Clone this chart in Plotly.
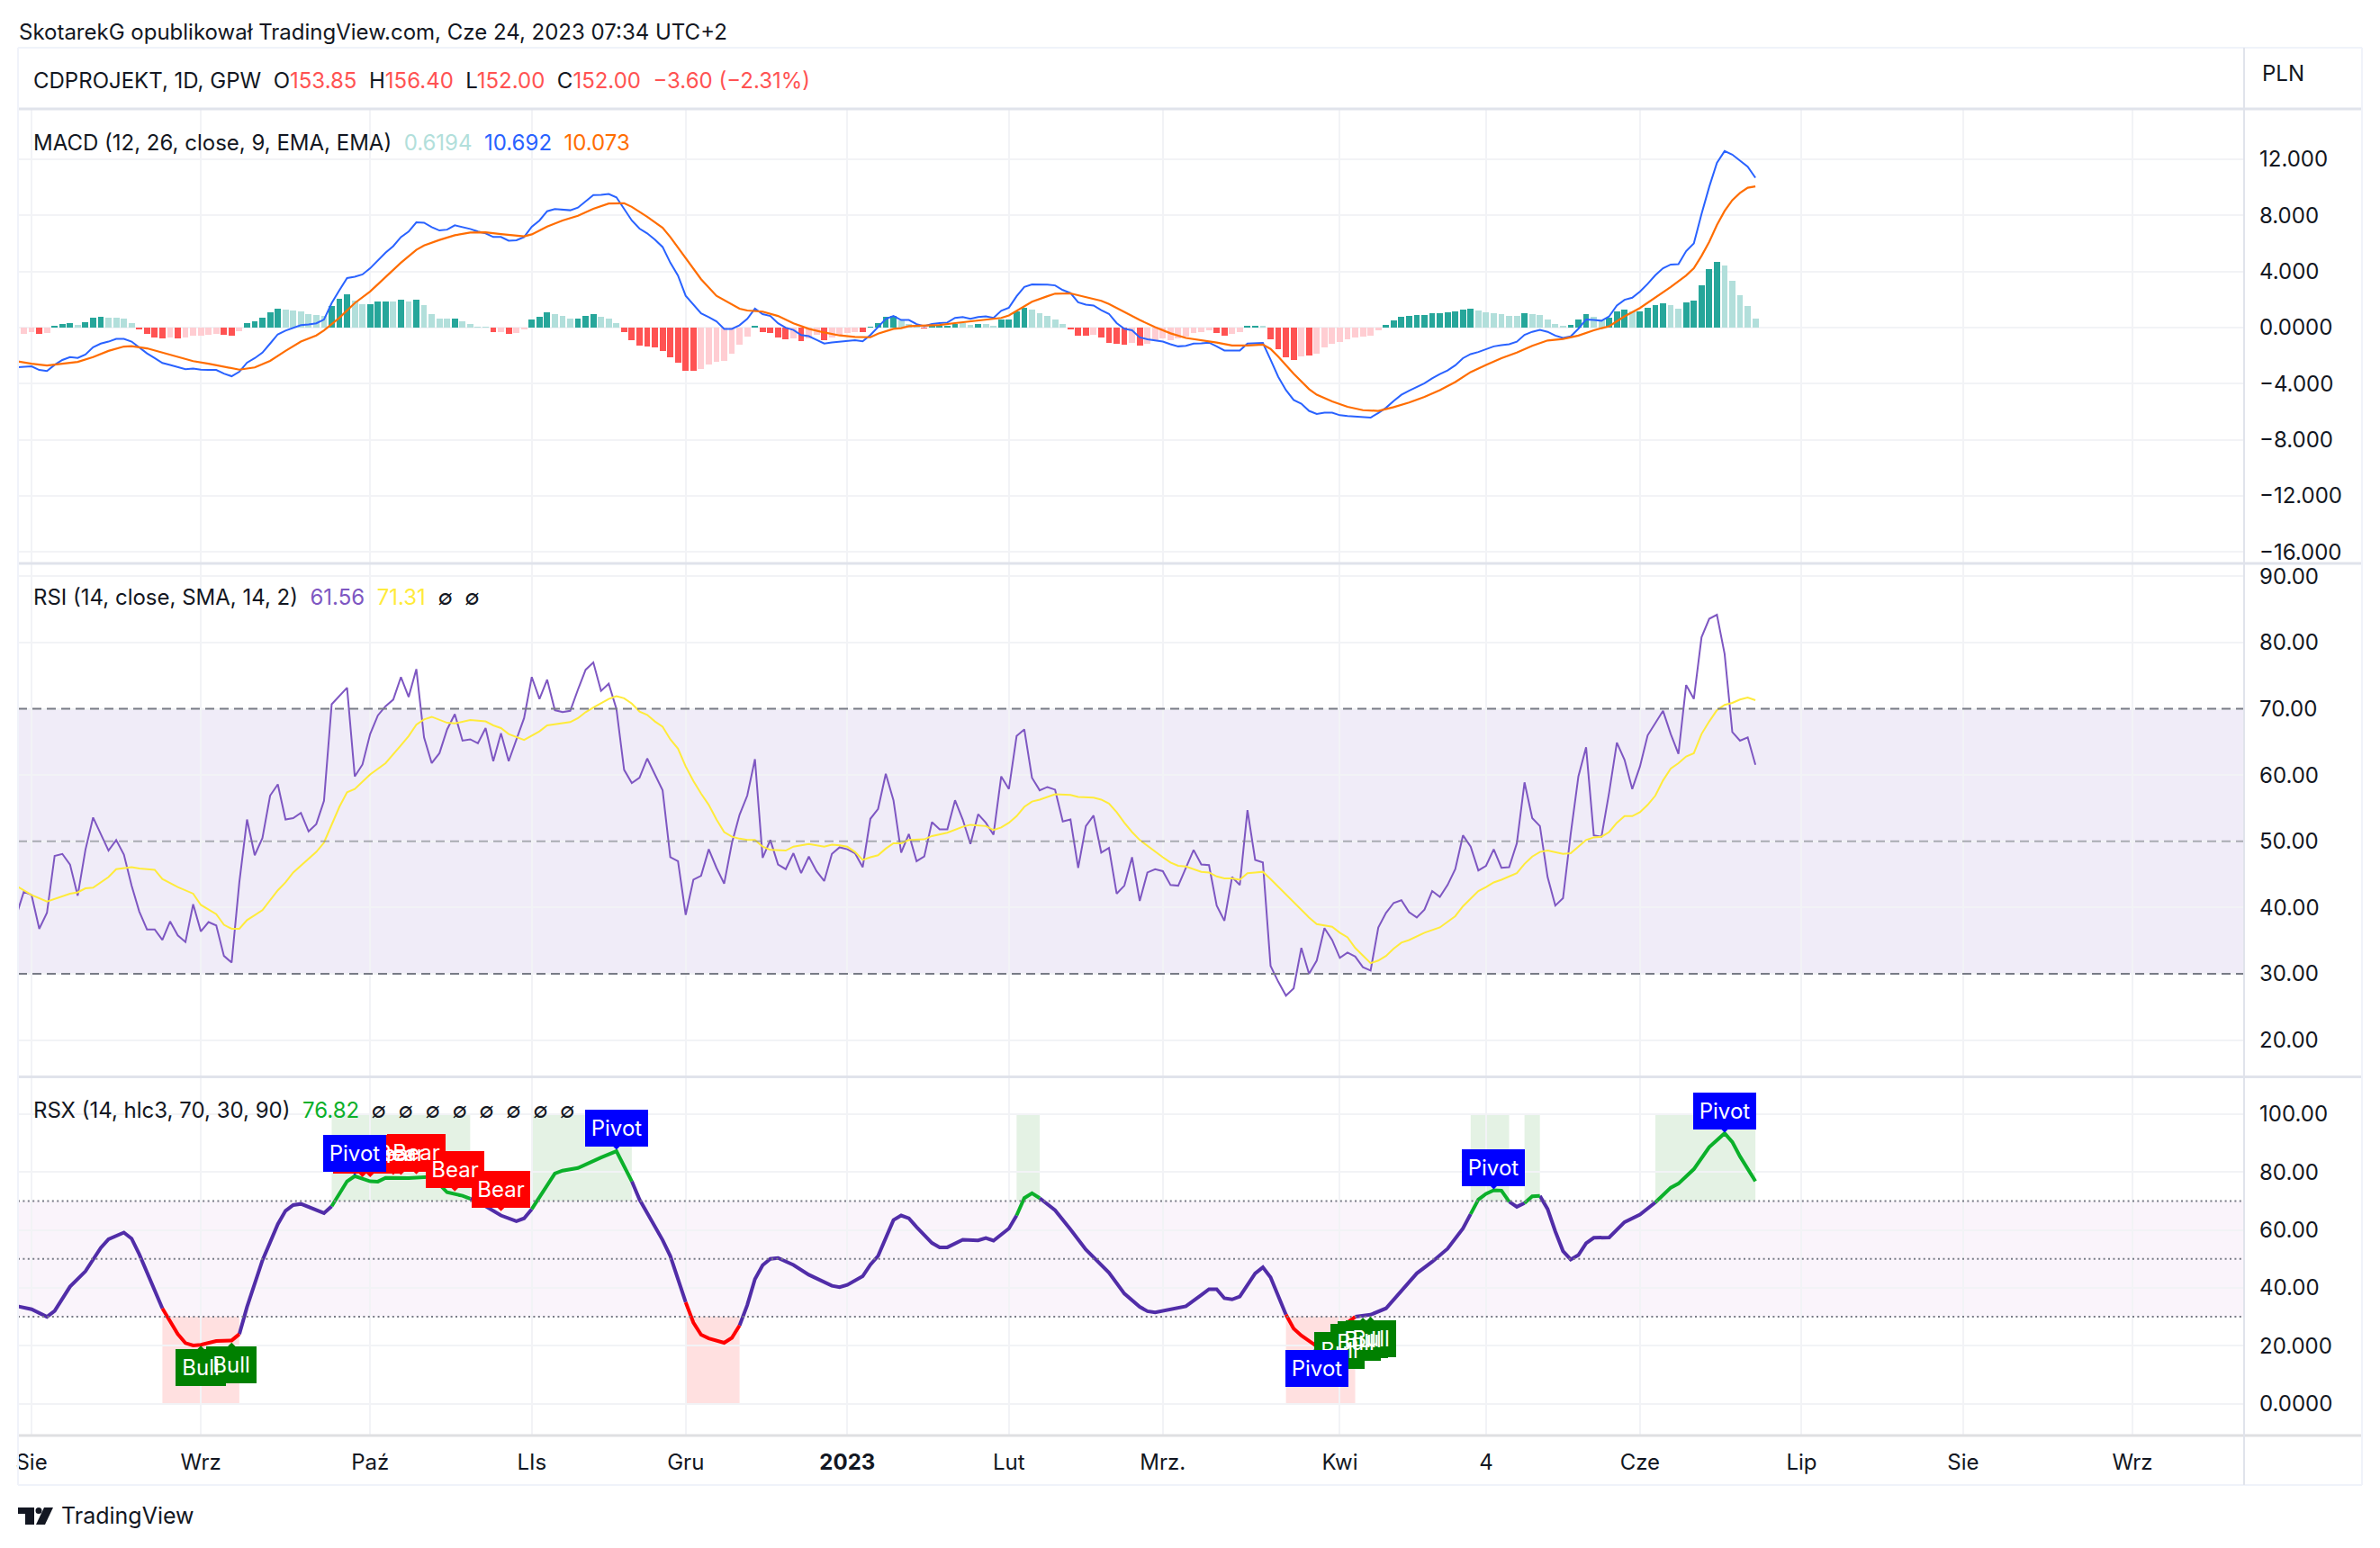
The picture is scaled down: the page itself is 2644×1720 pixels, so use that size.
import plotly.graph_objects as go

W, H = 2644, 1720

# --- bar index of each series: 0 is 2022-07-29, 225 is 2023-06-23 ---
month_pos = [1, 23, 45, 66, 86, 107, 128, 148, 171, 190, 210, 231, 252, 274]
month_txt = ["Sie", "Wrz", "Paź", "LIs", "Gru", "<b>2023</b>", "Lut", "Mrz.", "Kwi", "4", "Cze", "Lip", "Sie", "Wrz"]

# MACD line, one value per bar from index -1
macd_line = [-2.84, -2.8, -2.76, -3.02, -3.1, -2.66, -2.31, -2.1, -2.16, -1.92, -1.4, -1.14, -1.0, -.8, -.8, -1, -1.4,
             -1.84, -2.18, -2.52, -2.66, -2.81, -2.97, -2.92, -3, -3.02, -3.02, -3.28, -3.47, -3.15, -2.5, -2.18, -1.79,
             -1.14, -.48, -.22, -.01, .17, .23, .31, .57, 1.75, 2.66, 3.53, 3.63, 3.79, 4.23, 4.81, 5.34, 5.81, 6.46,
             6.85, 7.51, 7.48, 7.17, 6.93, 6.99, 7.3, 7.17, 7.04, 6.85, 6.72, 6.46, 6.46, 6.2, 6.23, 6.46, 7.2, 7.64,
             8.3, 8.45, 8.43, 8.37, 8.56, 9, 9.45, 9.47, 9.53, 9.29, 8.43, 7.64, 7.06, 6.72, 6.28, 5.75, 4.63, 3.71,
             2.27, 1.62, 1.01, .75, .44, -.09, -.09, .17, .62, 1.35, .96, .83, .31, -.01, -.17, -.53, -.61, -.87, -1.14,
             -1.06, -1, -.93, -.9, -.98, -.53, .04, .62, .83,
             .54, .54, .25, .1, .25, .32, .36, .69, .76, .63, .76, .8, .69, 1.2, 1.42, 2.24, 2.9, 3.08, 3.08, 3.06, 3.01,
             2.68, 2.46, 1.8, 1.64, 1.58, 1.25, .98, .32, -.08, -.19, -.7, -.83, -.92, -1, -1.19, -1.34, -1.3, -1.14,
             -1.12, -1.07, -1.34, -1.63, -1.63, -1.63, -1.14, -1.1, -1.1, -2.29, -3.51, -4.46, -5.16, -5.43, -5.94,
             -6.16, -6.07, -6.07, -6.25, -6.31, -6.34, -6.38, -6.42, -6.09, -5.72, -5.23, -4.79, -4.5, -4.24, -3.97,
             -3.62, -3.31, -3.06, -2.69, -2.18, -1.89, -1.74, -1.54, -1.34, -1.25, -1.19, -1.01, -.52, -.3, -.17, -.3,
             -.57, -.74, -.63, -.08, .58, .54, .49, .8, 1.58, 1.98, 2.13, 2.57, 3.12, 3.74, 4.23, 4.5, 4.52, 5.45, 6,
             8.1, 10.04, 11.75, 12.59, 12.34, 11.9, 11.48, 10.69]

# signal line vertices
signal_idx = [-1, 1, 3, 5, 7, 9, 11, 13, 14, 16, 18, 20, 22, 24, 26, 28, 30, 32, 34, 36, 38, 39, 41, 43, 45, 47, 49, 51,
              52, 54, 56, 58, 60, 62, 64, 65, 66, 68, 70, 72, 74, 76, 78, 79, 81, 83, 84, 86, 88, 90, 92, 93, 94, 96, 98,
              100, 102, 104, 106, 108, 110, 111, 113, 114, 115, 117, 119, 121, 123, 125, 127, 128, 129, 131, 133, 134,
              136, 138, 140, 141, 143, 145, 147, 149, 151, 153, 155, 157, 159, 161, 162, 163, 165, 167, 168, 170, 172,
              174, 176, 178, 180, 182, 184, 186, 188, 190, 192, 194, 196, 198, 200, 202, 204, 206, 208, 210, 212, 214,
              216, 217, 218, 219, 220, 221, 222, 223, 224, 225]
signal_val = [-2.39, -2.58, -2.71, -2.58, -2.45, -2.1, -1.66, -1.35, -1.32, -1.48, -1.79, -2.1, -2.39, -2.58, -2.79, -3,
              -2.84, -2.37, -1.66, -1, -.56, -.2, .7, 1.75, 2.58, 3.58, 4.63, 5.55, 5.86, 6.25, 6.59, 6.78, 6.8, 6.67,
              6.54, 6.51, 6.65, 7.2, 7.64, 7.98, 8.48, 8.85, 8.87, 8.61, 7.9, 7.12, 6.46, 4.97, 3.45, 2.27, 1.62, 1.35,
              1.22, 1.14, .83, .31, -.09, -.35, -.56, -.66, -.69, -.43, -.09, -.04, .1, .14, .19, .32, .43, .54, .69, .87,
              1.2, 1.84, 2.24, 2.42, 2.44, 2.17, 1.91, 1.69, 1.09, .54, .03, -.41, -.74, -.9, -1.07, -1.27, -1.27, -1.21,
              -1.52, -2.07, -3.29, -4.39, -4.79, -5.27, -5.65, -5.89, -5.94, -5.67, -5.34, -4.94, -4.46, -3.88, -3.17,
              -2.67, -2.18, -1.78, -1.3, -.92, -.81, -.57, -.19, .1, .8, 1.4, 2.13, 2.9, 3.72, 4.23, 5.11, 6.11, 7.32,
              8.32, 9.09, 9.6, 9.98, 10.07]

# histogram, one value per bar from index 0
hist_val = [-.47, -.34, -.47, -.39, .1, .26, .34, .2, .39, .73, .79, .73, .73, .63, .34, -.08, -.47, -.71, -.79, -.73,
            -.79, -.73, -.55, -.55, -.52, -.42, -.52, -.55, -.26, .31, .45, .71, 1.1, 1.36, 1.31, 1.23, 1.18, .97, .89,
            .86, 1.55, 2.07, 2.36, 1.91, 1.65, 1.7, 1.83, 1.89, 1.89, 2.02, 1.89, 2.02, 1.62, .97, .65, .63, .65, .47,
            .26, .05, .05, -.34, -.34, -.47, -.37, -.16, .6, .79, 1.1, .97, .81, .63, .65, .86, .97, .79, .65, .34, -.34,
            -.92, -1.26, -1.34, -1.44, -1.7, -2.15, -2.49, -3.09, -3.1, -2.96, -2.62, -2.41, -2.36, -1.83, -1.23, -.65,
            .1, -.34, -.39, -.68, -.86, -.79, -.94, -.79, -.5, -.92, -.73, -.58, -.39, -.32, -.34, .05, .34, .79, .86,
            .49, .27, .15, -.05, .11, .11, .11, .27, .33, .2, .27, .27, .11, .55, .6, 1.15, 1.41, 1.3, 1.04, .82, .6,
            .27, -.1, -.55, -.57, -.51, -.73, -1.06, -1.17, -1.22, -1.06, -1.28, -1.17, -.91, -.8, -.88, -.8, -.62, -.4,
            -.29, -.22, -.4, -.57, -.44, -.35, .13, .13, .13, -.82, -1.57, -2.1, -2.28, -2.06, -2.01, -1.86, -1.39,
            -1.13, -1.02, -.86, -.73, -.64, -.57, -.18, .2, .53, .75, .82, .88, .88, 1.04, 1.04, 1.1, 1.17, 1.3, 1.35,
            1.24, 1.1, 1.04, .95, .84, .84, 1.04, .97, .88, .6, .27, .07, .2, .6, .97, .77, .49, .71, 1.17, 1.28, 1.13,
            1.17, 1.41, 1.61, 1.75, 1.61, 1.35, 1.81, 1.95, 3.03, 4.18, 4.69, 4.44, 3.32, 2.31, 1.55, .62]
# shade of each histogram bar, ten bars a group: d = strong, l = pale
hist_shade = ("lldldddldd" "dllllddddl" "dlllllddld" "ddddllllll" "dddlldddld" "ldlllldlll" "ldldlldddl" "lldddllldd"
              "ddddddddll" "lllllddddd" "ldlldlllld" "ddddlllddd" "ddlldllddd" "dllllldddl" "ddddldllll" "lllllddlld"
              "dlddddldll" "lllllllddd" "dddddddddl" "llllldllll" "ldddlldddl" "ddddlldddd" "dlllll")

# RSI, one value per bar from index -1
rsi_val = [38.7, 42.4, 41.9, 36.8, 39.2, 47.8, 48.1, 46.5, 41.8, 48.7, 53.6, 51.1, 48.6, 50.2, 48, 43.3, 39.4, 36.7, 36.7,
           35.1, 37.9, 35.8, 34.8, 40.5, 36.4, 37.8, 37.3, 32.7, 31.7, 43.8, 53.3, 47.9, 50.5, 56.9, 58.6, 53.3, 53.5,
           54.3, 51.5, 52.6, 56.1, 70.7, 72, 73.2, 59.8, 61.6, 66.2, 69, 70.4, 71.4, 74.8, 71.8, 76, 65.7, 61.8, 63.3,
           66.9, 69.2, 65.2, 65.4, 64.8, 67.1, 62.1, 66.3, 62.1, 65.4, 68.6, 74.8, 71.5, 74.4, 69.8, 69.5, 69.7, 72.9,
           75.9, 77, 72.7, 73.8, 70, 60.8, 58.8, 59.6, 62.5, 60.1, 57.7, 47.6, 47, 38.9, 44.2, 44.8, 48.8, 46, 43.6, 49.7,
           54, 56.9, 62.4, 47.5, 50.2, 46.5, 45.8, 48.2, 45.2, 47.7, 45.5, 44, 48.1, 49.1, 48.8, 48.2, 46.1, 53.4, 54.9,
           60.2, 56.2, 48.3, 51.1, 47, 47.7, 52.9, 51.8, 51.8, 56.2, 53.3, 49.6, 54.1, 52.8, 51, 59.8, 57.9, 65.9, 66.9,
           59.6, 57.7, 58.2, 57.8, 53, 53.3, 46, 52.3, 53.9, 48.3, 49, 42.1, 43.3, 47.6, 41, 45.3, 45.8, 45.5, 43.4, 43.3,
           46, 48.7, 46.5, 46.4, 40.3, 38, 44.6, 43.4, 54.7, 47.2, 46.8, 31.2, 28.8, 26.7, 27.8, 33.9, 30, 32, 36.9, 35.1,
           32.4, 33.2, 32.6, 31, 30.5, 37, 39.2, 40.7, 41.1, 39.3, 38.5, 39.7, 42.5, 41.6, 43.4, 45.8, 50.9, 49.2, 45.6,
           46.3, 48.8, 46, 46.1, 49.7, 58.9, 53.5, 52.3, 44.6, 40.3, 41.4, 51.1, 59.8, 64.2, 50.9, 50.7, 57.4, 64.9, 62.3,
           57.9, 61.3, 66, 67.9, 69.7, 66.2, 63.2, 73.6, 71.5, 80.8, 83.6, 84.2, 78.3, 66.5, 65.2, 65.7, 61.56]

# RSI moving average, one value per bar from index -1 where readable
rsi_ma_idx = [-1, 1, 3, 6, 7, 8, 9, 11, 12, 14, 15, 17, 18, 20, 22, 23, 25, 26, 27, 28, 29, 31, 33, 34, 35, 37, 38, 39,
              40, 41, 42, 43, 45, 47, 49, 50, 51, 52, 53, 54, 55, 56, 58, 60, 61, 62, 63, 65, 66, 67, 68, 69, 70, 71, 72,
              73, 74, 75, 76, 77, 78, 79, 80, 81, 82, 83, 84, 85, 86, 87, 88, 89, 90, 91, 92, 93, 94, 95, 96, 97, 98, 99,
              100, 102, 104, 105, 106, 107, 108, 109, 110, 111, 112, 113, 114, 115, 117, 118, 120, 122, 123, 125, 126,
              127, 128, 129, 130, 131, 132, 134, 136, 137, 139, 140, 141, 142, 143, 144, 145, 146, 147, 148, 149, 150,
              151, 152, 153, 154, 155, 156, 157, 158, 159, 160, 161, 162, 164, 166, 167, 168, 170, 171, 172, 173, 174,
              175, 176, 177, 178, 179, 180, 182, 184, 185, 186, 187, 188, 189, 190, 191, 192, 194, 195, 196, 197, 198,
              200, 201, 202, 203, 204, 205, 206, 207, 208, 209, 210, 211, 212, 213, 214, 215, 216, 217, 218, 219, 220,
              221, 222, 223, 224, 225]
rsi_ma_val = [43.3, 41.9, 40.9, 42.1, 42.3, 42.9, 43, 44.6, 45.8, 46.1, 45.9, 45.7, 44.3, 43.1, 42.1, 40.4, 39, 37.4, 36.8,
              36.8, 38.1, 39.6, 42.6, 43.8, 45.3, 47.3, 48.4, 49.8, 52.6, 55.2, 57.4, 57.9, 60.1, 61.8, 64.5, 65.9, 67.6,
              68.4, 68.8, 68.3, 67.9, 67.8, 68.3, 68.1, 67.5, 67.1, 66.2, 65.3, 65.9, 66.6, 67.5, 67.7, 67.8, 68, 68.6,
              69.5, 70.2, 70.9, 71.5, 71.9, 71.6, 70.8, 69.6, 69.1, 68.1, 67.3, 65.4, 64, 61.3, 59.1, 57.2, 55.5, 53.3,
              51.4, 50.7, 50.4, 50.2, 50.2, 49.2, 48.7, 48.6, 48.6, 49.2, 49.6, 49.2, 49.5, 49.4, 49.2, 48.4, 47.2, 47.6,
              47.9, 48.9, 49.7, 49.7, 50.2, 50.3, 50.8, 51.3, 52.2, 52.5, 52.3, 51.7, 52.1, 52.8, 53.8, 55.2, 56, 56.3,
              57.1, 57, 56.7, 56.6, 56.3, 55.7, 54.4, 52.8, 51.4, 50.2, 49.3, 48.4, 47.6, 46.8, 46.3, 46.2, 45.8, 45.4,
              45.3, 44.7, 44.4, 44.4, 44.2, 45.2, 45.3, 45.4, 44.3, 42, 39.7, 38.5, 37.5, 37.1, 36.2, 35.5, 33.9, 32.7,
              31.6, 32, 32.7, 33.8, 34.7, 35.1, 36.2, 37, 37.8, 38.7, 40.2, 41.4, 42.5, 43.1, 43.8, 44.2, 45.2, 46.6, 47.7,
              48.4, 48.6, 48.1, 48.2, 49.2, 50.2, 50.6, 50.7, 51.4, 52.8, 53.8, 53.8, 54.4, 55.5, 56.9, 59.2, 61, 61.8,
              62.8, 63.3, 66.2, 68.1, 69.8, 70.6, 70.9, 71.4, 71.7, 71.31]

# RSX line vertices
rsx_idx = [-1, 1, 3, 4, 6, 8, 10, 11, 13, 14, 15, 17, 18, 20, 21, 22, 23, 25, 27, 28, 29, 31, 33, 34, 35, 36, 38, 39, 40,
           42, 43, 45, 46, 47, 50, 53, 55, 57, 58, 60, 62, 64, 65, 66, 69, 70, 72, 75, 77, 79, 80, 83, 84, 86, 87, 88, 89,
           91, 92, 93, 94, 95, 96, 97, 98, 100, 102, 105, 106, 107, 109, 110, 111, 113, 114, 115, 116, 118, 119, 120, 122,
           124, 125, 126, 128, 129, 130, 131, 132, 134, 136, 138, 141, 143, 145, 146, 147, 148, 151, 153, 154, 155, 156,
           157, 158, 160, 161, 162, 164, 165, 166, 168, 169, 170, 171, 172, 173, 175, 177, 178, 180, 181, 183, 185, 187,
           188, 189, 190, 191, 192, 193, 194, 195, 196, 197, 198, 199, 200, 201, 202, 203, 204, 206, 208, 210, 212, 214,
           215, 217, 219, 221, 222, 223, 225]
rsx_val = [33.7, 32.6, 30, 32, 40.4, 45.7, 53.8, 56.8, 59.1, 57, 51.6, 39, 32.9, 24, 20.9, 20.1, 20.3, 21.6, 21.8, 24,
           33.4, 49.5, 62, 66.6, 68.6, 69, 67, 65.8, 68.2, 76.8, 78.6, 76.8, 76.7, 78, 77.9, 78.4, 73, 71.8, 70.8, 68.2,
           65, 63, 64, 67.2, 79.5, 80.5, 81.4, 85, 87.2, 76.8, 70.5, 56.5, 51, 35, 28, 23.8, 22.5, 21, 22.7, 27, 34, 43,
           47.8, 50, 50.3, 47.9, 44.5, 40.7, 40.2, 41, 44, 48, 51, 63.4, 65, 64, 61, 55.5, 54, 54, 56.6, 56.4, 57.2, 56.3,
           60.5, 65, 71, 72.7, 71, 66.8, 60.2, 53.2, 45.2, 38, 33.4, 31.9, 31.5, 32, 33.6, 37.5, 39.5, 39.5, 36.4, 36, 37,
           45, 47.1, 43.6, 30.7, 25.9, 23.5, 19.8, 19.5, 22, 26, 28, 30, 30.7, 32.9, 36, 42, 45, 49, 53.5, 60.5, 65.5,
           70.5, 72.5, 73.7, 73.6, 69.8, 68, 69.3, 71.6, 71.8, 67.2, 59.5, 52.7, 49.8, 51.3, 55.4, 57.3, 57.4, 62.7, 65.3,
           69.5, 74.6, 76, 81, 88.6, 93.4, 90.4, 85.4, 76.82]

# stretches of bars where RSX is overbought / oversold
overbought = [(40, 58), (66, 79), (129, 132), (188, 193), (195, 197), (212, 225)]
oversold = [(18, 28), (86, 93), (164, 173)]

# signal labels: bar index and the RSX level the label points to
bear_labels = [(44, 78.2), (45, 78.2), (48, 79), (49, 79), (51, 79.2), (56, 73.3), (62, 66.5)]
bull_labels = [(23, 20), (27, 21.1), (171, 26), (173, 28.8), (174, 29.7), (175, 30)]
pivot_top = [(43, 78.9), (77, 87.7), (191, 74), (221, 93.6)]
pivot_bottom = [(168, 19.7)]

macd_ticks = [12, 8, 4, 0, -4, -8, -12, -16]
macd_tick_txt = ["12.000", "8.000", "4.000", "0.0000", "−4.000", "−8.000", "−12.000", "−16.000"]
rsi_ticks = [90, 80, 70, 60, 50, 40, 30, 20]
rsi_tick_txt = ["90.00", "80.00", "70.00", "60.00", "50.00", "40.00", "30.00", "20.00"]
rsx_ticks = [100, 80, 60, 40, 20, 0]
rsx_tick_txt = ["100.00", "80.00", "60.00", "40.00", "20.000", "0.0000"]

FONT = "Inter, 'Liberation Sans', sans-serif"
INK = "#131722"
GRID = "#f2f3f6"
EDGE = "#e0e3eb"
FS = 24

# pane geometry in page pixels
LEFT, RIGHT, BOX_R = 20, 2493, 2624
PANES = {"": (121, 626), "2": (626, 1196.5), "3": (1196.5, 1595)}
XRANGE = [-0.76, 288.5]


def fx(px):
    return px / W


def fy(px):
    return 1 - px / H


fig = go.Figure()

# MACD pane
hist_colors = []
for v, s in zip(hist_val, hist_shade):
    if v >= 0:
        hist_colors.append("#26A69A" if s == "d" else "#B2DFDB")
    else:
        hist_colors.append("#FF5252" if s == "d" else "#FFCDD2")
fig.add_trace(go.Bar(x=list(range(len(hist_val))), y=hist_val, width=0.8, marker=dict(color=hist_colors, line_width=0),
                     xaxis="x", yaxis="y"))
fig.add_trace(go.Scatter(x=list(range(-1, len(macd_line) - 1)), y=macd_line, mode="lines",
                         line=dict(color="#2962FF", width=2), xaxis="x", yaxis="y"))
fig.add_trace(go.Scatter(x=signal_idx, y=signal_val, mode="lines", line=dict(color="#FF6D00", width=2.2),
                         xaxis="x", yaxis="y"))

# RSI pane
fig.add_trace(go.Scatter(x=list(range(-1, len(rsi_val) - 1)), y=rsi_val, mode="lines",
                         line=dict(color="#7E57C2", width=2), xaxis="x2", yaxis="y2"))
fig.add_trace(go.Scatter(x=rsi_ma_idx, y=rsi_ma_val, mode="lines", line=dict(color="#FFEB3B", width=2),
                         xaxis="x2", yaxis="y2"))

# RSX pane: purple between the zones, green and red inside them
zones_all = overbought + oversold
rsx_base = [None if any(a < i < b for a, b in zones_all) else v for i, v in zip(rsx_idx, rsx_val)]
fig.add_trace(go.Scatter(x=rsx_idx, y=rsx_base, mode="lines", connectgaps=False,
                         line=dict(color="#512DA8", width=4), xaxis="x3", yaxis="y3"))
for zones, col in ((overbought, "#0BB02A"), (oversold, "#FF0000")):
    for a, b in zones:
        seg = [(i, v) for i, v in zip(rsx_idx, rsx_val) if a <= i <= b]
        fig.add_trace(go.Scatter(x=[p[0] for p in seg], y=[p[1] for p in seg], mode="lines",
                                 line=dict(color=col, width=4), xaxis="x3", yaxis="y3"))

shapes = []

# RSI band and level lines
shapes.append(dict(type="rect", xref="x2 domain", yref="y2", x0=0, x1=1, y0=30, y1=70, line_width=0,
                   fillcolor="rgba(126,87,194,0.115)", layer="below"))
for lvl, col in ((70, "#787B86"), (50, "rgba(120,123,134,0.6)"), (30, "#787B86")):
    shapes.append(dict(type="line", xref="x2 domain", yref="y2", x0=0, x1=1, y0=lvl, y1=lvl,
                       line=dict(color=col, width=2, dash="10px,6px")))

# RSX band, level lines and zone shading
shapes.append(dict(type="rect", xref="x3 domain", yref="y3", x0=0, x1=1, y0=30, y1=70, line_width=0,
                   fillcolor="rgba(155,39,176,0.05)", layer="below"))
for lvl in (70, 50, 30):
    shapes.append(dict(type="line", xref="x3 domain", yref="y3", x0=0, x1=1, y0=lvl, y1=lvl,
                       line=dict(color="#787B86", width=2, dash="2px,3.4px")))
for a, b in overbought:
    shapes.append(dict(type="rect", xref="x3", yref="y3", x0=a, x1=b, y0=70, y1=100, line_width=0,
                       fillcolor="rgba(0,128,0,0.105)", layer="below"))
for a, b in oversold:
    shapes.append(dict(type="rect", xref="x3", yref="y3", x0=a, x1=b, y0=0, y1=30, line_width=0,
                       fillcolor="rgba(255,0,0,0.12)", layer="below"))


# chart frame
def hline(y, x0, x1, col, w):
    shapes.append(dict(type="line", xref="paper", yref="paper", x0=fx(x0), x1=fx(x1), y0=fy(y), y1=fy(y),
                       line=dict(color=col, width=w), layer="above"))


def vline(x, y0, y1, col, w):
    shapes.append(dict(type="line", xref="paper", yref="paper", x0=fx(x), x1=fx(x), y0=fy(y0), y1=fy(y1),
                       line=dict(color=col, width=w), layer="above"))


hline(53, LEFT, BOX_R, "#f0f3fa", 2)
hline(121, LEFT, BOX_R, EDGE, 3)
hline(626, LEFT, BOX_R, EDGE, 3)
hline(1196.5, LEFT, BOX_R, EDGE, 3)
hline(1595, LEFT, BOX_R, "#dfe0e2", 3)
hline(1650, LEFT, BOX_R, "#f0f3fa", 2)
vline(LEFT, 53, 1650, "#f0f3fa", 2)
vline(BOX_R, 53, 1650, "#f0f3fa", 2)
vline(RIGHT, 53, 1650, EDGE, 2)


# small pointer joining a label to the line
def pointer(i, v, col, up):
    d = 6 if up else -6
    shapes.append(dict(type="path", xref="x3", yref="y3", xsizemode="pixel", ysizemode="pixel", xanchor=i, yanchor=v,
                       path=f"M-6,{d} L0,0 L6,{d} Z", fillcolor=col, line_width=0, layer="above"))


for i, v in bear_labels:
    pointer(i, v, "#FF0000", True)
for i, v in bull_labels:
    pointer(i, v, "#008000", False)
for i, v in pivot_top:
    pointer(i, v, "#0000FF", True)
for i, v in pivot_bottom:
    pointer(i, v, "#0000FF", False)

annotations = []


# each kind of label stacks as a group: its boxes first, its words over all of them
def label_group(items, text, col, w):
    for i, v, up in items:
        annotations.append(dict(x=i, y=v, xref="x3", yref="y3", text=" ", showarrow=False, bgcolor=col, width=w,
                                height=41, borderpad=0, borderwidth=0, xanchor="center",
                                yanchor="bottom" if up else "top", yshift=4 if up else -4))
    for i, v, up in items:
        annotations.append(dict(x=i, y=v, xref="x3", yref="y3", text=text, showarrow=False, width=w, height=41,
                                borderpad=0, borderwidth=0, xanchor="center", yanchor="bottom" if up else "top",
                                yshift=4 if up else -4, align="center", valign="middle",
                                font=dict(family=FONT, size=FS, color="#FFFFFF")))


label_group([(i, v, True) for i, v in bear_labels], "Bear", "#FF0000", 65)
label_group([(i, v, False) for i, v in bull_labels], "Bull", "#008000", 56)
label_group([(i, v, True) for i, v in pivot_top] + [(i, v, False) for i, v in pivot_bottom], "Pivot", "#0000FF", 70)


def span(t, c):
    return f'<span style="color:{c}">{t}</span>'


def note(x, y, text, size=FS):
    annotations.append(dict(x=fx(x), y=fy(y), xref="paper", yref="paper", text=text, showarrow=False, xanchor="left",
                            yanchor="middle", align="left", font=dict(family=FONT, size=size, color=INK)))


RED = "#FF5252"
note(19, 36, "SkotarekG opublikował TradingView.com, Cze 24, 2023 07:34 UTC+2")
note(35, 90, "CDPROJEKT, 1D, GPW&#160;&#160;O" + span("153.85", RED) + "&#160;&#160;H" + span("156.40", RED)
     + "&#160;&#160;L" + span("152.00", RED) + "&#160;&#160;C" + span("152.00", RED) + "&#160;&#160;"
     + span("−3.60 (−2.31%)", RED))
note(35, 158, "MACD (12, 26, close, 9, EMA, EMA)&#160;&#160;" + span("0.6194", "#B2DFDB") + "&#160;&#160;"
     + span("10.692", "#2962FF") + "&#160;&#160;" + span("10.073", "#FF6D00"))
note(35, 663, "RSI (14, close, SMA, 14, 2)&#160;&#160;" + span("61.56", "#7E57C2") + "&#160;&#160;"
     + span("71.31", "#FFEB3B") + "&#160;&#160;∅&#160;&#160;∅")
note(35, 1233, "RSX (14, hlc3, 70, 30, 90)&#160;&#160;" + span("76.82", "#0BB02A") + "&#160;&#160;"
     + "&#160;&#160;".join(["∅"] * 8))
note(2511, 81, "PLN")
note(66, 1684, "TradingView", 25)


# TradingView mark
def px_path(points):
    return "M" + " L".join(f"{fx(x):.5f},{fy(y):.5f}" for x, y in points) + " Z"


for pts in ([(20, 1675), (38, 1675), (38, 1694), (28, 1694), (28, 1682), (20, 1682)],
            [(49, 1675), (59, 1675), (50, 1694), (40, 1694)]):
    shapes.append(dict(type="path", xref="paper", yref="paper", path=px_path(pts), fillcolor=INK, line_width=0))
shapes.append(dict(type="circle", xref="paper", yref="paper", x0=fx(39.5), x1=fx(46.5), y0=fy(1682), y1=fy(1675),
                   fillcolor=INK, line_width=0))


def x_axis(suffix, labels):
    return dict(domain=[fx(LEFT), fx(RIGHT)], range=XRANGE, anchor="y" + suffix, tickmode="array", tickvals=month_pos,
                ticktext=month_txt, showticklabels=labels, showgrid=True, gridcolor=GRID, gridwidth=1.5, zeroline=False,
                showline=False, ticks="", ticklabelstandoff=13, tickfont=dict(family=FONT, size=FS, color=INK))


def y_axis(suffix, rng, vals, txt):
    top, bottom = PANES[suffix]
    return dict(domain=[fy(bottom), fy(top)], range=rng, anchor="x" + suffix, side="right", tickmode="array",
                tickvals=vals, ticktext=txt, showgrid=True, gridcolor=GRID, gridwidth=2, zeroline=False, showline=False,
                ticks="", ticklabelstandoff=16, tickfont=dict(family=FONT, size=FS, color=INK))


fig.update_layout(
    width=W, height=H, autosize=False, showlegend=False, paper_bgcolor="white", plot_bgcolor="white",
    margin=dict(l=0, r=0, t=0, b=0, autoexpand=False), font=dict(family=FONT, color=INK), bargap=0,
    xaxis=x_axis("", False), xaxis2=x_axis("2", False), xaxis3=x_axis("3", True),
    yaxis=y_axis("", [-16.82, 15.6], macd_ticks, macd_tick_txt),
    yaxis2=y_axis("2", [14.44, 91.96], rsi_ticks, rsi_tick_txt),
    yaxis3=y_axis("3", [-11.04, 112.9], rsx_ticks, rsx_tick_txt),
    shapes=shapes, annotations=annotations,
)

fig.write_html("out.html")
